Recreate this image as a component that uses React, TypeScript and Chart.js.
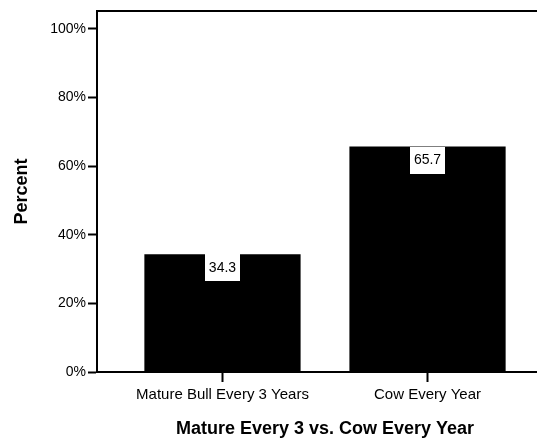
import React, { useEffect, useRef } from "react";
import { Chart, registerables } from "chart.js";

Chart.register(...registerables);

const categories: string[] = ["Mature Bull Every 3 Years", "Cow Every Year"];
const percentValues: number[] = [34.3, 65.7];
const yTickValues: number[] = [0, 20, 40, 60, 80, 100];
const xTitle = "Mature Every 3 vs. Cow Every Year";
const yTitle = "Percent";

const FONT = "'Liberation Sans', Arial, Helvetica, sans-serif";

const frameTopPlugin = {
  id: "frameTop",
  afterDraw(chart: any) {
    const { ctx, chartArea } = chart;
    ctx.save();
    ctx.strokeStyle = "#000";
    ctx.lineWidth = 2;
    ctx.beginPath();
    ctx.moveTo(chartArea.left - 1, chartArea.top);
    ctx.lineTo(chartArea.right, chartArea.top);
    ctx.stroke();
    ctx.restore();
  },
};

const valueBoxPlugin = {
  id: "valueBox",
  afterDatasetsDraw(chart: any) {
    const { ctx } = chart;
    const meta = chart.getDatasetMeta(0);
    ctx.save();
    ctx.font = `14px ${FONT}`;
    ctx.textAlign = "center";
    ctx.textBaseline = "middle";
    meta.data.forEach((el: any, i: number) => {
      const txt = percentValues[i].toFixed(1);
      const w = ctx.measureText(txt).width + 8;
      const h = 27;
      ctx.fillStyle = "#fff";
      ctx.fillRect(Math.round(el.x - w / 2), Math.round(el.y), Math.round(w), h);
      ctx.fillStyle = "#000";
      ctx.fillText(txt, el.x, el.y + h / 2);
    });
    ctx.restore();
  },
};

export default function App() {
  const canvasRef = useRef<HTMLCanvasElement | null>(null);

  useEffect(() => {
    if (!canvasRef.current) return;
    const chart = new Chart(canvasRef.current, {
      type: "bar",
      data: {
        datasets: [
          {
            data: categories.map((c, i) => ({ x: i, y: percentValues[i] })),
            backgroundColor: "#000",
            borderWidth: 0,
            categoryPercentage: 1,
            barPercentage: 0.762,
          },
        ],
      },
      options: {
        responsive: false,
        animation: false,
        devicePixelRatio: 1,
        layout: { padding: { top: 11, right: 0, bottom: 0, left: 0 } },
        plugins: {
          legend: { display: false },
          tooltip: { enabled: false },
        },
        scales: {
          x: {
            type: "linear",
            offset: false,
            min: -0.612,
            max: categories.length - 1 + 0.612,
            afterBuildTicks: (scale: any) => {
              scale.ticks = categories.map((c, i) => ({ value: i }));
            },
            afterFit: (scale: any) => {
              scale.height = 68;
            },
            grid: {
              display: true,
              offset: false,
              drawOnChartArea: false,
              tickLength: 10,
              tickWidth: 2,
              tickColor: "#000",
            },
            border: { display: true, color: "#000", width: 2 },
            ticks: {
              autoSkip: false,
              maxRotation: 0,
              minRotation: 0,
              padding: 4,
              color: "#000",
              font: { family: FONT, size: 15 },
              callback: (v: any) => categories[Number(v)] ?? "",
            },
            title: {
              display: true,
              text: xTitle,
              color: "#000",
              font: { family: FONT, size: 18, weight: "bold" },
              padding: { top: 0, bottom: 0 },
            },
          },
          y: {
            type: "linear",
            min: 0,
            max: 105.2,
            afterBuildTicks: (scale: any) => {
              scale.ticks = yTickValues.map((v) => ({ value: v }));
            },
            afterFit: (scale: any) => {
              scale.width = 97;
            },
            grid: {
              display: true,
              drawOnChartArea: false,
              tickLength: 9,
              tickWidth: 2,
              tickColor: "#000",
            },
            border: { display: true, color: "#000", width: 2 },
            ticks: {
              padding: 2,
              color: "#000",
              font: { family: FONT, size: 14 },
              callback: (v: any) => `${v}%`,
            },
            title: {
              display: true,
              text: yTitle,
              color: "#000",
              font: { family: FONT, size: 18, weight: "bold" },
              padding: { top: 11, bottom: 0 },
            },
          },
        },
      },
      plugins: [frameTopPlugin, valueBoxPlugin],
    } as any);
    return () => chart.destroy();
  }, []);

  return (
    <div
      style={{
        position: "fixed",
        left: 0,
        top: 0,
        width: 537,
        height: 440,
        overflow: "hidden",
        background: "#fff",
      }}
    >
      <canvas ref={canvasRef} width={553} height={440} style={{ display: "block", width: 553, height: 440 }} />
    </div>
  );
}
